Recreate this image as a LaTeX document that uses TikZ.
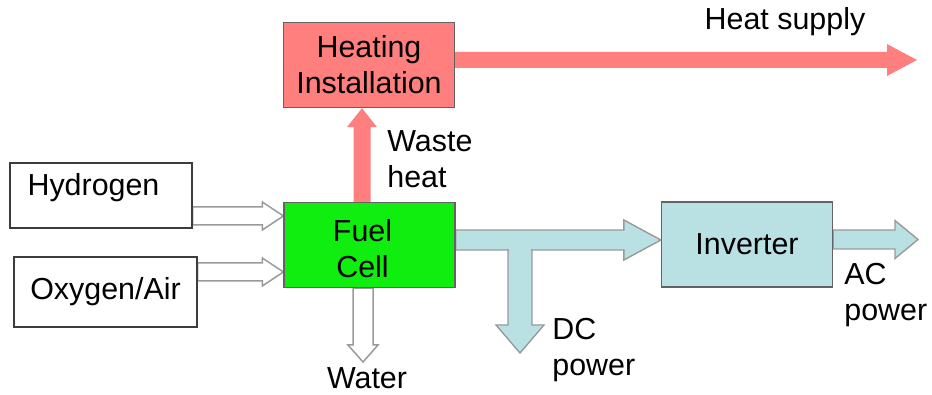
\documentclass[tikz,border=0pt]{standalone}
\usepackage{fontspec}
\setmainfont{Liberation Sans}
\usepackage{tikz}
\usetikzlibrary{calc,backgrounds}
\definecolor{fcgreen}{HTML}{10EE10}
\definecolor{htred}{HTML}{FF7F7F}
\definecolor{invblue}{HTML}{B9E0E3}
\definecolor{edgegray}{HTML}{9A9A9A}
\definecolor{boxedge}{HTML}{3C3C3C}

\begin{document}
\begin{tikzpicture}[
  x=0.5pt,y=-0.5pt,
  font=\fontsize{15.2pt}{18pt}\selectfont,
  srcbox/.style={draw=boxedge,line width=0.65pt,fill=white,inner sep=0pt},
  unit/.style={draw=boxedge!80,line width=0.65pt,inner sep=0pt,align=center,minimum width=85.5pt,minimum height=42.5pt},
  lbl/.style={inner sep=0pt,align=left},
  hollow/.style={draw=edgegray,line width=0.75pt,fill=white},
  bluearrow/.style={draw=edgegray,line width=0.7pt,fill=invblue},
  bluefill/.style={fill=invblue},
  redarrow/.style={fill=htred},
  fatR/.style n args={3}{to path={let \p1=(\tikztostart),\p2=(\tikztotarget) in
    (\x1,\y1+#1) -- (\x2-#3,\y1+#1) -- (\x2-#3,\y1+#2) -- (\x2,\y1)
    -- (\x2-#3,\y1-#2) -- (\x2-#3,\y1-#1) -- (\x1,\y1-#1) -- cycle}},
  fatD/.style n args={3}{to path={let \p1=(\tikztostart),\p2=(\tikztotarget) in
    (\x1-#1,\y1) -- (\x1-#1,\y2+#3) -- (\x1-#2,\y2+#3) -- (\x1,\y2)
    -- (\x1+#2,\y2+#3) -- (\x1+#1,\y2+#3) -- (\x1+#1,\y1) -- cycle}},
  fatU/.style n args={3}{to path={let \p1=(\tikztostart),\p2=(\tikztotarget) in
    (\x1-#1,\y1) -- (\x1-#1,\y2-#3) -- (\x1-#2,\y2-#3) -- (\x1,\y2)
    -- (\x1+#2,\y2-#3) -- (\x1+#1,\y2-#3) -- (\x1+#1,\y1) -- cycle}}]
\useasboundingbox (0,0) rectangle (932,395);
% inputs
\node[srcbox,minimum width=91pt,minimum height=32.5pt,
  label={[shift={(-7.5,-7.5)}]center:Hydrogen}] (hyd) at (101,195.5) {};
\node[srcbox,minimum width=91.5pt,minimum height=35pt] (oxy) at (105.5,292) {Oxygen/Air};
% units
\node[unit,fill=fcgreen,label={[shift={(-7,4)},align=center]center:Fuel\\ Cell}] (fc) at (369.5,245) {};
\node[unit,fill=htred] (heat) at (369,65) {Heating\\ Installation};
\node[unit,fill=invblue] (inv) at (747,244.5) {Inverter};
% arrow end points
\coordinate (h2in) at (0,216);
\coordinate (o2in) at (0,272);
\coordinate (wat) at (363,362);
\coordinate (wh) at (362,0);
\coordinate (hs) at (917,60);
\coordinate (dcline) at (0,240);
\coordinate (dcj) at (520,250);
\coordinate (dc) at (520,353);
\coordinate (ac) at (918,239.5);
% flows
\begin{scope}[on background layer]
\draw[hollow] (hyd.east |- h2in) to[fatR={4.5pt}{7pt}{10.5pt}] (fc.west |- h2in);
\draw[hollow] (oxy.east |- o2in) to[fatR={4.5pt}{7pt}{10.5pt}] (fc.west |- o2in);
\draw[hollow] (fc.south -| wat) to[fatD={5pt}{7.5pt}{8.5pt}] (wat);
\fill[redarrow] (fc.north -| wh) to[fatU={4.25pt}{7.5pt}{9.5pt}] (heat.south -| wh);
\fill[redarrow] (heat.east |- hs) to[fatR={4pt}{8pt}{15pt}] (hs);
\draw[bluearrow] (fc.east |- dcline) to[fatR={5pt}{10pt}{18.5pt}] (inv.west |- dcline);
\draw[bluearrow] (dcj) to[fatD={6pt}{12pt}{14pt}] (dc);
% open the joint of the T
\fill[bluefill] ([xshift=-5.6pt,yshift=1.5pt]dcj) rectangle ([xshift=5.6pt,yshift=-1.5pt]dcj);
\draw[bluearrow] (inv.east |- ac) to[fatR={4.75pt}{9.5pt}{11.5pt}] (ac);
\end{scope}
% labels
\node[lbl] (hslbl) at (785,22) {Heat supply};
\node[lbl,anchor=west] (whlbl) at (387,159) {Waste\\ heat};
\node[lbl] (watlbl) at (367,378) {Water};
\node[lbl,anchor=west] (dclbl) at (552,350) {DC\\ power};
\node[lbl,anchor=west] (aclbl) at (844,295) {AC\\ power};
\end{tikzpicture}
\end{document}
